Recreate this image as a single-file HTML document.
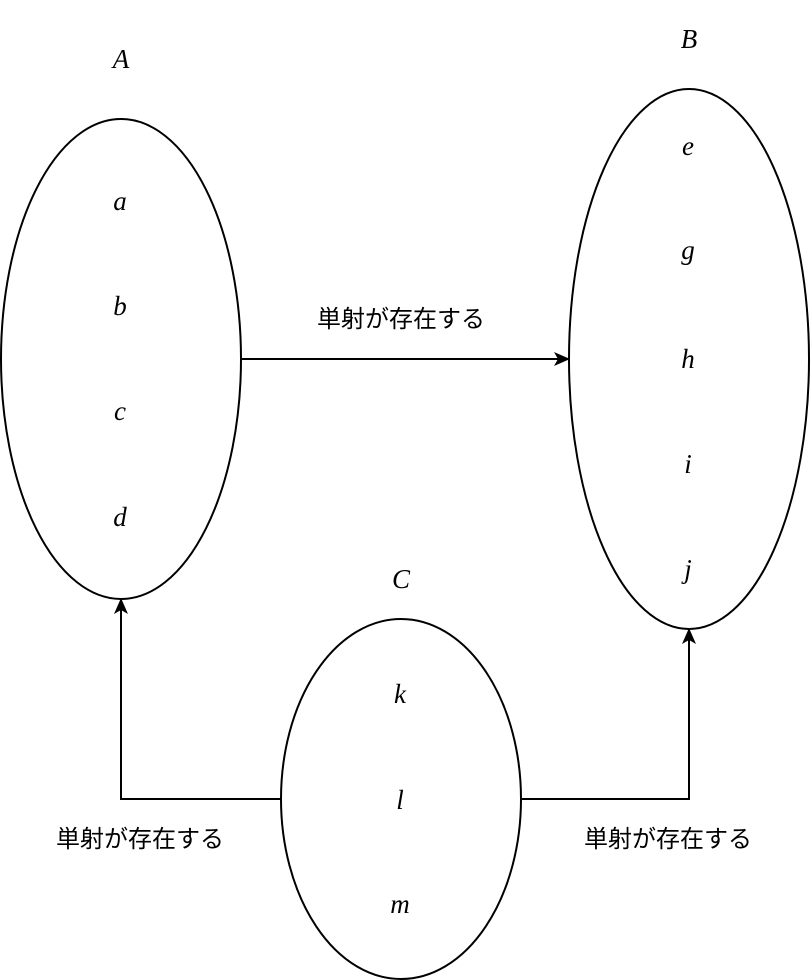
<!DOCTYPE html>
<html><head><meta charset="utf-8"><style>
html,body{margin:0;padding:0;background:#fff;}
svg{display:block;}
.m{font-family:"Liberation Serif","DejaVu Serif",serif;font-style:italic;font-size:27px;fill:#000;}
.j{font-family:"Liberation Sans","Noto Sans CJK JP",sans-serif;font-size:24px;fill:#000;}
</style></head><body>
<svg width="810" height="980" viewBox="0 0 810 980">
<defs>
<marker id="ah2" viewBox="0 0 16 16" refX="15" refY="8" markerWidth="16" markerHeight="16" markerUnits="userSpaceOnUse" orient="auto"><path d="M0,1 L16,8 L0,15 L4,8 Z" fill="#000"/></marker></defs>
<g>
<ellipse cx="121" cy="359" rx="120" ry="240" fill="#fff" stroke="#000" stroke-width="2"/>
<text class="m" x="121" y="68" text-anchor="middle">A</text>
<text class="m" x="120" y="210" text-anchor="middle">a</text>
<text class="m" x="120" y="315" text-anchor="middle">b</text>
<text class="m" x="120" y="420" text-anchor="middle">c</text>
<text class="m" x="120" y="526" text-anchor="middle">d</text>
</g>
<g>
<ellipse cx="689" cy="359" rx="120" ry="270" fill="#fff" stroke="#000" stroke-width="2"/>
<text class="m" x="689" y="48" text-anchor="middle">B</text>
<text class="m" x="688" y="155" text-anchor="middle">e</text>
<text class="m" x="688" y="259" text-anchor="middle">g</text>
<text class="m" x="688" y="368" text-anchor="middle">h</text>
<text class="m" x="688" y="473" text-anchor="middle">i</text>
<text class="m" x="688" y="578" text-anchor="middle">j</text>
</g>
<g>
<ellipse cx="401" cy="799" rx="120" ry="180" fill="#fff" stroke="#000" stroke-width="2"/>
<text class="m" x="401" y="588" text-anchor="middle">C</text>
<text class="m" x="400" y="703" text-anchor="middle">k</text>
<text class="m" x="400" y="809" text-anchor="middle">l</text>
<text class="m" x="400" y="913" text-anchor="middle">m</text>
</g>
<path d="M241,359 L569,359" fill="none" stroke="#000" stroke-width="2" marker-end="url(#ah2)"/>
<path d="M281,799 L121,799 L121,599" fill="none" stroke="#000" stroke-width="2" marker-end="url(#ah2)"/>
<path d="M521,799 L689,799 L689,629" fill="none" stroke="#000" stroke-width="2" marker-end="url(#ah2)"/>
<text class="j" x="401" y="327" text-anchor="middle">単射が存在する</text>
<text class="j" x="140" y="847" text-anchor="middle">単射が存在する</text>
<text class="j" x="668" y="847" text-anchor="middle">単射が存在する</text>
</svg>
</body></html>
